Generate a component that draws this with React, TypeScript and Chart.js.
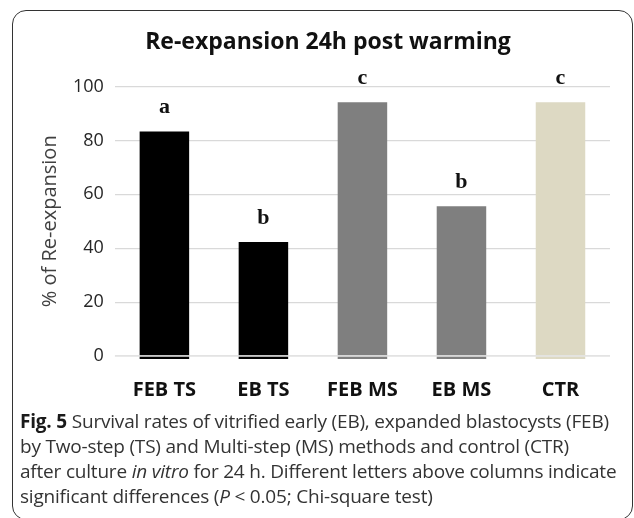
import React, { useEffect, useRef } from "react";
import { Chart, registerables } from "chart.js";

Chart.register(...registerables);

const categories = ["FEB TS", "EB TS", "FEB MS", "EB MS", "CTR"];
const values = [83.3, 42.3, 94.2, 55.6, 94.2];
const letters = ["a", "b", "c", "b", "c"];
const barColors = ["#000000", "#000000", "#7f7f7f", "#7f7f7f", "#ddd9c3"];
const yMin = 0;
const yMax = 100;
const yStep = 20;
const chartTitle = "Re-expansion 24h post warming";
const yTitle = "% of Re-expansion";

const decorPlugin = {
  id: "decorPlugin",
  afterDatasetsDraw(chart: any) {
    const ctx = chart.ctx;
    const meta = chart.getDatasetMeta(0);
    const yScale = chart.scales.y;
    const base = yScale.getPixelForValue(0);
    ctx.save();
    meta.data.forEach((bar: any, i: number) => {
      const w = bar.width;
      ctx.fillStyle = barColors[i];
      ctx.fillRect(bar.x - w / 2, base, w, 3);
    });
    ctx.strokeStyle = "#e6e6e6";
    ctx.lineWidth = 1.5;
    ctx.beginPath();
    ctx.moveTo(chart.chartArea.left, base);
    ctx.lineTo(chart.chartArea.right, base);
    ctx.stroke();
    ctx.fillStyle = "#111111";
    ctx.font = "bold 22px 'Liberation Serif'";
    ctx.textAlign = "center";
    ctx.textBaseline = "middle";
    meta.data.forEach((bar: any, i: number) => {
      ctx.fillText(letters[i], bar.x, bar.y - 24);
    });
    ctx.fillStyle = "#111111";
    ctx.font = "bold 23px 'Open Sans'";
    ctx.fillText(chartTitle, 328, 42);
    ctx.restore();
  },
};

export default function App() {
  const canvasRef = useRef<HTMLCanvasElement | null>(null);

  useEffect(() => {
    if (!canvasRef.current) return;
    const chart = new Chart(canvasRef.current, {
      type: "bar",
      data: {
        labels: categories,
        datasets: [
          {
            data: values,
            backgroundColor: barColors,
            borderWidth: 0,
            barPercentage: 0.5,
            categoryPercentage: 1,
          },
        ],
      },
      options: {
        responsive: false,
        animation: false,
        devicePixelRatio: 1,
        layout: { padding: { left: 12, right: 24, top: 0, bottom: 11 } },
        plugins: {
          legend: { display: false },
          tooltip: { enabled: false },
          title: {
            display: true,
            text: chartTitle,
            color: "rgba(0,0,0,0)",
            font: { family: "'Open Sans'", size: 23, weight: "bold" },
            padding: { top: 25, bottom: 34 },
          },
        },
        scales: {
          x: {
            grid: { display: false, drawTicks: false },
            border: { display: false },
            ticks: {
              color: "#111111",
              font: { family: "'Open Sans'", size: 20, weight: "bold" },
              padding: 22,
            },
          },
          y: {
            min: yMin,
            max: yMax,
            grid: { color: "#d9d9d9", lineWidth: 1.2, drawTicks: false },
            border: { display: false },
            ticks: {
              stepSize: yStep,
              color: "#262626",
              font: { family: "'Open Sans'", size: 18 },
              padding: 11,
            },
            title: {
              display: true,
              text: yTitle,
              color: "#404040",
              font: { family: "'Open Sans'", size: 20 },
              padding: { top: 26, bottom: 0 },
            },
          },
        },
      },
      plugins: [decorPlugin],
    });
    return () => chart.destroy();
  }, []);

  const lineStyle: React.CSSProperties = { whiteSpace: "nowrap", height: 25 };

  return (
    <div
      style={{
        position: "fixed",
        left: 0,
        top: 0,
        width: 634,
        height: 518,
        overflow: "hidden",
        background: "#ffffff",
      }}
    >
      <canvas
        ref={canvasRef}
        width={634}
        height={435}
        style={{ position: "absolute", left: 0, top: 0, width: 634, height: 435 }}
      />
      <div
        style={{
          position: "absolute",
          left: 12,
          top: 10,
          width: 621,
          height: 510,
          border: "1.5px solid #333333",
          borderRadius: 14,
          boxSizing: "border-box",
          pointerEvents: "none",
        }}
      />
      <div
        style={{
          position: "absolute",
          left: 20,
          top: 409,
          fontFamily: "'Open Sans', sans-serif",
          fontSize: 19,
          lineHeight: "25px",
          color: "#333333",
          letterSpacing: -0.2,
        }}
      >
        <div style={lineStyle}>
          <b style={{ color: "#1a1a1a" }}>Fig. 5</b> Survival rates of vitrified early (EB), expanded blastocysts (FEB)
        </div>
        <div style={lineStyle}>by Two-step (TS) and Multi-step (MS) methods and control (CTR)</div>
        <div style={lineStyle}>
          after culture <i>in vitro</i> for 24 h. Different letters above columns indicate
        </div>
        <div style={lineStyle}>
          significant differences (<i>P</i> &lt; 0.05; Chi-square test)
        </div>
      </div>
    </div>
  );
}
